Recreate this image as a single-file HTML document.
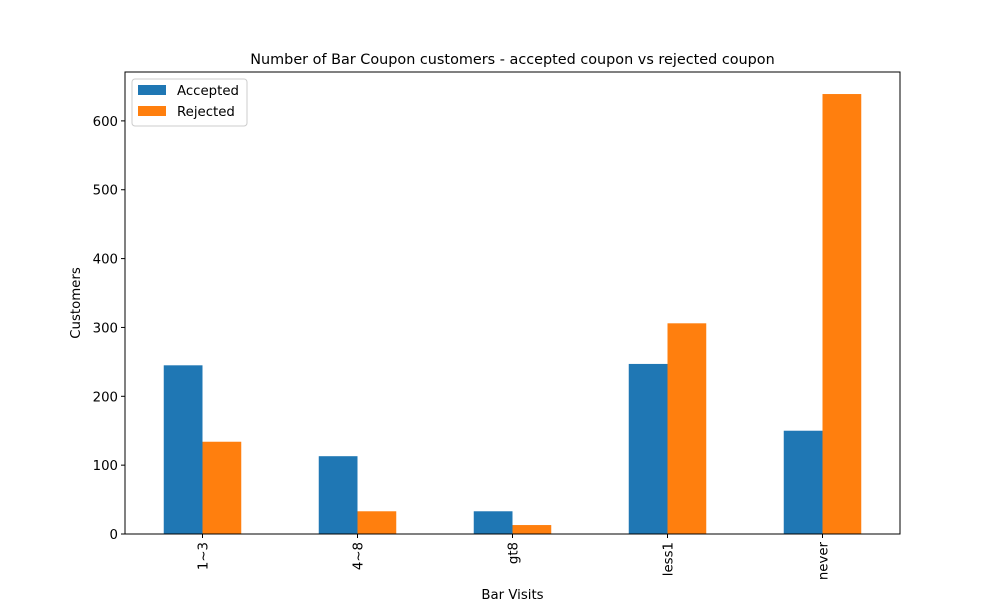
<!DOCTYPE html>
<html><head><meta charset="utf-8"><style>
body{margin:0;background:#fff;font-family:"Liberation Sans","DejaVu Sans",sans-serif;}
</style></head><body>
<svg id="chart" width="1000" height="600" xmlns="http://www.w3.org/2000/svg" font-family="DejaVu Sans, Liberation Sans, sans-serif">
<rect width="1000" height="600" fill="#fff"/>
<text x="512.5" y="64" font-size="14.4" text-anchor="middle">Number of Bar Coupon customers - accepted coupon vs rejected coupon</text>
<g id="bars"></g>
<g id="axes"></g>
<text x="512.5" y="599" font-size="13.3" text-anchor="middle">Bar Visits</text>
<text transform="translate(80,303) rotate(-90)" font-size="13.3" text-anchor="middle">Customers</text>
<g>
<rect x="132" y="79" width="115" height="47" fill="#fff" stroke="#ccc" rx="3"/>
<rect x="138" y="85" width="28" height="10" fill="#1f77b4"/>
<text x="177" y="95" font-size="13.3">Accepted</text>
<rect x="138" y="106" width="28" height="10" fill="#ff7f0e"/>
<text x="177" y="116" font-size="13.3">Rejected</text>
</g>
</svg>
<script>
const categories = ["1~3","4~8","gt8","less1","never"];
const accepted = [245, 113, 33, 247, 150];
const rejected = [134, 33, 13, 306, 639];
const yTicks = [0,100,200,300,400,500,600];

const L=125,R=900,T=72,B=534;
const yMax = 671;
function y(v){return B-(v/yMax)*(B-T);}
function xc(i){return L+(R-L)*(i+0.5)/categories.length;}
const bw=(R-L)/categories.length*0.25;
const NS="http://www.w3.org/2000/svg";
const bars=document.getElementById('bars'), axes=document.getElementById('axes');
function mk(tag,attrs,parent){const e=document.createElementNS(NS,tag);for(const k in attrs)e.setAttribute(k,attrs[k]);parent.appendChild(e);return e;}
categories.forEach((c,i)=>{
  const a=mk('rect',{x:xc(i)-bw,y:y(accepted[i]),width:bw,height:B-y(accepted[i]),fill:'#1f77b4'},bars);
  
  
  const r=mk('rect',{x:xc(i),y:y(rejected[i]),width:bw,height:B-y(rejected[i]),fill:'#ff7f0e'},bars);
  
  
  mk('line',{x1:xc(i),x2:xc(i),y1:B,y2:B+4,stroke:'#000'},axes);
  const t=mk('text',{transform:`translate(${xc(i)+5},${B+8}) rotate(-90)`,'font-size':13.3,'text-anchor':'end'},axes);
  t.textContent=c;
  
  
});
yTicks.forEach(v=>{
  mk('line',{x1:L-4,x2:L,y1:y(v),y2:y(v),stroke:'#000'},axes);
  const t=mk('text',{x:L-7,y:y(v)+5,'font-size':13.3,'text-anchor':'end'},axes);
  t.textContent=v;
  
  
});
const f=mk('rect',{x:L,y:T,width:R-L,height:B-T,fill:'none',stroke:'#000','stroke-width':1},axes);


</script>
</body></html>
